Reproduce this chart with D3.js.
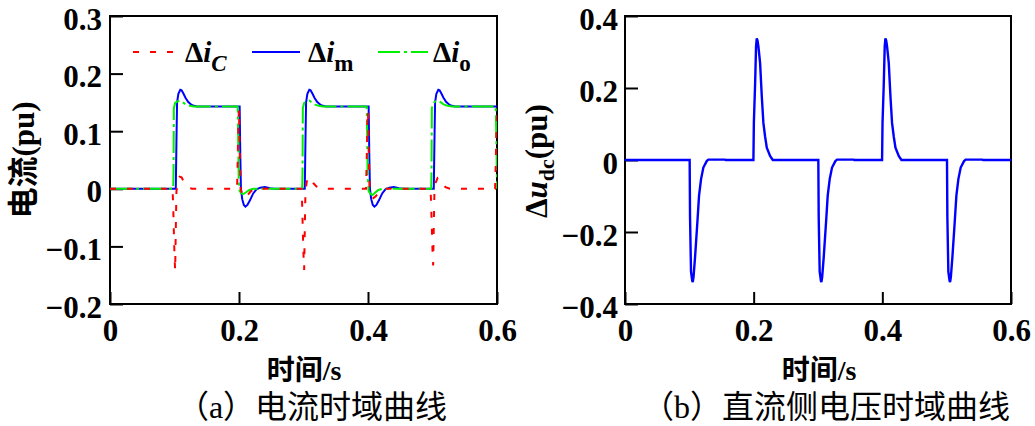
<!DOCTYPE html>
<html>
<head>
<meta charset="utf-8">
<script src="https://cdn.jsdelivr.net/npm/d3@7"></script>
<style>
  body { margin: 0; background: #fff; }
</style>
</head>
<body>
<div id="chart"></div>
<script>
// Data: [time (s), value (pu)]
const xTicks = [0, 0.2, 0.4, 0.6];
const yTicksA = [-0.2, -0.1, 0, 0.1, 0.2, 0.3];
const yTicksB = [-0.4, -0.2, 0, 0.2, 0.4];

const imPoints = [
  [0,0],[0.102,0],[0.103,0.08],[0.104,0.150],[0.106,0.165],[0.109,0.172],[0.111,0.171],[0.114,0.165],[0.117,0.158],[0.121,0.151],[0.126,0.146],[0.130,0.144],[0.135,0.143],
  [0.201,0.143],[0.202,0.06],[0.203,0],[0.205,-0.018],[0.2075,-0.028],[0.210,-0.031],[0.213,-0.028],[0.217,-0.020],[0.222,-0.008],[0.227,-0.001],[0.233,0.002],[0.240,0.003],[0.248,0.001],[0.255,0],
  [0.302,0],[0.303,0.08],[0.304,0.150],[0.306,0.165],[0.309,0.172],[0.311,0.171],[0.314,0.165],[0.317,0.158],[0.321,0.151],[0.326,0.146],[0.330,0.144],[0.335,0.143],
  [0.401,0.143],[0.402,0.06],[0.403,0],[0.405,-0.018],[0.4075,-0.028],[0.410,-0.031],[0.413,-0.028],[0.417,-0.020],[0.422,-0.008],[0.427,-0.001],[0.433,0.002],[0.440,0.003],[0.448,0.001],[0.455,0],
  [0.502,0],[0.503,0.08],[0.504,0.150],[0.506,0.165],[0.509,0.172],[0.511,0.171],[0.514,0.165],[0.517,0.158],[0.521,0.151],[0.526,0.146],[0.530,0.144],[0.535,0.143],
  [0.600,0.143]
];

const ioPoints = [
  [0,0],[0.098,0],[0.0985,0.03],[0.099,0.140],[0.101,0.149],[0.105,0.152],[0.109,0.153],[0.113,0.150],[0.118,0.146],[0.124,0.144],[0.130,0.143],
  [0.198,0.143],[0.1985,0.11],[0.1995,0.02],[0.201,-0.004],[0.204,-0.008],[0.207,-0.009],[0.211,-0.006],[0.216,-0.002],[0.222,0],
  [0.298,0],[0.2985,0.03],[0.299,0.140],[0.301,0.149],[0.305,0.152],[0.309,0.153],[0.313,0.150],[0.318,0.146],[0.324,0.144],[0.330,0.143],
  [0.398,0.143],[0.3985,0.11],[0.3995,0.02],[0.401,-0.004],[0.404,-0.009],[0.407,-0.011],[0.411,-0.007],[0.416,-0.002],[0.422,0],
  [0.498,0],[0.4985,0.03],[0.499,0.140],[0.501,0.149],[0.505,0.152],[0.509,0.153],[0.513,0.150],[0.518,0.146],[0.524,0.144],[0.530,0.143],
  [0.598,0.143],[0.599,0.09],[0.600,0]
];

const icPoints = [
  [0,0],[0.097,0],[0.098,-0.03],[0.099,-0.075],[0.100,-0.115],[0.101,-0.142],[0.102,-0.07],[0.103,-0.005],[0.105,0.012],[0.108,0.021],[0.111,0.020],[0.115,0.011],[0.120,0.004],[0.127,0],
  [0.197,0],[0.198,0.05],[0.199,0.115],[0.200,0.138],[0.201,0.07],[0.2025,0],[0.205,-0.010],[0.2085,-0.016],[0.212,-0.013],[0.217,-0.006],[0.223,0],
  [0.297,0],[0.298,-0.03],[0.299,-0.075],[0.300,-0.115],[0.301,-0.141],[0.302,-0.07],[0.303,-0.005],[0.305,0.012],[0.308,0.020],[0.311,0.019],[0.315,0.010],[0.320,0.004],[0.327,0],
  [0.397,0],[0.398,0.05],[0.399,0.115],[0.400,0.136],[0.401,0.07],[0.4025,0],[0.405,-0.010],[0.4085,-0.016],[0.412,-0.013],[0.417,-0.006],[0.423,0],
  [0.497,0],[0.498,-0.03],[0.499,-0.07],[0.500,-0.108],[0.501,-0.133],[0.502,-0.065],[0.503,-0.005],[0.505,0.011],[0.508,0.019],[0.511,0.018],[0.515,0.010],[0.520,0.003],[0.527,0],
  [0.597,0],[0.598,0.04],[0.599,0.10],[0.600,0.13]
];

const udcPoints = [
  [0,0],[0.1005,0],[0.1011,-0.16],[0.1026,-0.31],[0.1045,-0.335],[0.1053,-0.339],[0.1065,-0.325],[0.1089,-0.270],[0.1125,-0.173],[0.1151,-0.099],[0.1182,-0.053],[0.1218,-0.021],[0.1270,-0.003],[0.1296,0.001],[0.1555,0.001],[0.1565,0],
  [0.1996,0],[0.2003,0.103],[0.2022,0.209],[0.2037,0.315],[0.2048,0.338],[0.2060,0.332],[0.2074,0.315],[0.2100,0.269],[0.2126,0.177],[0.2151,0.103],[0.2177,0.066],[0.2204,0.034],[0.2255,0.011],[0.2297,0],
  [0.3005,0],[0.3011,-0.16],[0.3026,-0.31],[0.3045,-0.335],[0.3053,-0.339],[0.3065,-0.325],[0.3089,-0.270],[0.3125,-0.173],[0.3151,-0.099],[0.3182,-0.053],[0.3218,-0.021],[0.3270,-0.003],[0.3296,0.001],[0.3555,0.001],[0.3565,0],
  [0.3996,0],[0.4003,0.103],[0.4022,0.209],[0.4037,0.315],[0.4048,0.338],[0.4060,0.332],[0.4074,0.315],[0.4100,0.269],[0.4126,0.177],[0.4151,0.103],[0.4177,0.066],[0.4204,0.034],[0.4255,0.011],[0.4297,0],
  [0.5005,0],[0.5011,-0.16],[0.5026,-0.31],[0.5045,-0.335],[0.5053,-0.339],[0.5065,-0.325],[0.5089,-0.270],[0.5125,-0.173],[0.5151,-0.099],[0.5182,-0.053],[0.5218,-0.021],[0.5270,-0.003],[0.5296,0.001],[0.5555,0.001],[0.5565,0],
  [0.6,0]
];

const serif = "Liberation Serif, serif";
const cjk = "Liberation Serif, Noto Sans CJK SC, serif";

const svg = d3.select("#chart").append("svg")
  .attr("width", 1035).attr("height", 426)
  .attr("font-family", serif);

const fmt = d => d === 0 ? "0" : d3.format(".1f")(d).replace("-", "\u2212");

// draws one framed panel and returns its scales
function panel(id, left, right, yDomain, yTicks, yPad)
{
  const top = 16, bottom = 304;
  const x = d3.scaleLinear().domain([0, 0.6]).range([left, right]);
  const y = d3.scaleLinear().domain(yDomain).range([bottom, top]);

  svg.append("clipPath").attr("id", id)
    .append("rect").attr("x", left).attr("y", top)
    .attr("width", right - left).attr("height", bottom - top);

  const ax = svg.append("g")
    .attr("transform", `translate(0,${bottom})`)
    .call(d3.axisBottom(x).tickValues(xTicks).tickFormat(fmt).tickSize(-12).tickPadding(15));
  const ay = svg.append("g")
    .attr("transform", `translate(${left},0)`)
    .call(d3.axisLeft(y).tickValues(yTicks).tickFormat(fmt).tickSize(-13).tickPadding(yPad));

  [ax, ay].forEach(g => {
    g.attr("font-family", serif).attr("font-size", 31).attr("font-weight", "bold");
    g.select(".domain").remove();
    g.selectAll(".tick line").attr("stroke", "#000").attr("stroke-width", 2);
    g.selectAll(".tick text")
      .attr("fill", "#000")
      .attr("font-family", serif)
      .style("font-family", serif);
  });
  ay.selectAll(".tick text").attr("dy", "0.42em");

  svg.append("rect")
    .attr("x", left).attr("y", top)
    .attr("width", right - left).attr("height", bottom - top)
    .attr("fill", "none").attr("stroke", "#000").attr("stroke-width", 2);

  return {x, y};
}

function curve(sc, clip, pts, color, dash, width)
{
  const line = d3.line().x(d => sc.x(d[0])).y(d => sc.y(d[1]));
  svg.append("path")
    .datum(pts)
    .attr("clip-path", `url(#${clip})`)
    .attr("d", line)
    .attr("fill", "none")
    .attr("stroke", color)
    .attr("stroke-width", width)
    .attr("stroke-dasharray", dash);
}

// (a) current panel
const a = panel("clipA", 110, 497, [-0.2, 0.3], yTicksA, 8);
curve(a, "clipA", imPoints, "#0000ff", null, 2);
curve(a, "clipA", ioPoints, "#00f000", "22,4,3,4", 2);
curve(a, "clipA", icPoints, "#ff0000", "6,11", 2);

// (b) dc voltage panel
const b = panel("clipB", 625, 1011, [-0.4, 0.4], yTicksB, 7);
curve(b, "clipB", udcPoints, "#0000ff", null, 2.4);

// legend
const legend = [
  {color: "#ff0000", dash: "6,11", x0: 133, x1: 177, tx: 185, sub: "C", subItalic: true},
  {color: "#0000ff", dash: null, x0: 252, x1: 300, tx: 308, sub: "m", subItalic: false},
  {color: "#00f000", dash: "22,4,3,4", x0: 378, x1: 428, tx: 433, sub: "o", subItalic: false}
];
legend.forEach(l => {
  svg.append("line")
    .attr("x1", l.x0).attr("x2", l.x1).attr("y1", 52).attr("y2", 52)
    .attr("stroke", l.color).attr("stroke-width", 2)
    .attr("stroke-dasharray", l.dash);
  const t = svg.append("text")
    .attr("x", l.tx).attr("y", 62)
    .attr("font-family", serif).attr("font-size", 29).attr("font-weight", "bold");
  t.append("tspan").text("\u0394");
  t.append("tspan").attr("font-style", "italic").text("i");
  t.append("tspan").attr("dy", 9).attr("font-size", 23)
    .attr("font-style", l.subItalic ? "italic" : "normal").text(l.sub);
});

// axis titles
[304, 819].forEach(cx => {
  svg.append("text")
    .attr("x", cx).attr("y", 380)
    .attr("text-anchor", "middle")
    .attr("font-family", cjk).attr("font-size", 28).attr("font-weight", "bold")
    .text("时间/s");
});

svg.append("text")
  .attr("transform", "translate(34,160) rotate(-90)")
  .attr("text-anchor", "middle")
  .attr("font-family", cjk).attr("font-size", 31).attr("font-weight", "bold")
  .text("电流(pu)");

const yl = svg.append("text")
  .attr("transform", "translate(547,161) rotate(-90)")
  .attr("text-anchor", "middle")
  .attr("font-family", serif).attr("font-size", 31).attr("font-weight", "bold");
yl.append("tspan").text("\u0394");
yl.append("tspan").attr("font-style", "italic").text("u");
yl.append("tspan").attr("dy", 7).attr("font-size", 22).text("dc");
yl.append("tspan").attr("dy", -7).text("(pu)");

// captions
svg.append("text")
  .attr("x", 312).attr("y", 418)
  .attr("text-anchor", "middle")
  .attr("font-family", cjk).attr("font-size", 32)
  .text("（a）电流时域曲线");
svg.append("text")
  .attr("x", 826).attr("y", 418)
  .attr("text-anchor", "middle")
  .attr("font-family", cjk).attr("font-size", 32)
  .text("（b）直流侧电压时域曲线");
</script>
</body>
</html>
